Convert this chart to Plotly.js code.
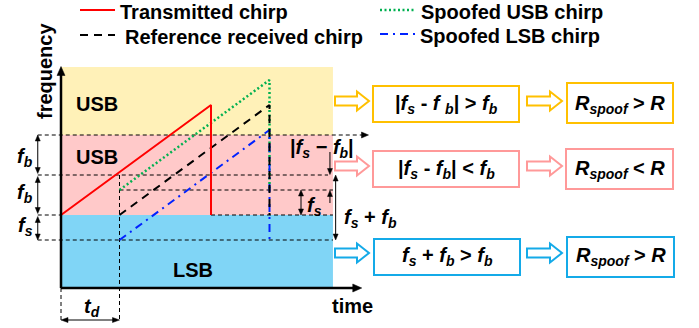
<!DOCTYPE html>
<html>
<head>
<meta charset="utf-8">
<script src="https://cdn.plot.ly/plotly-3.0.1.min.js"></script>
<style>html,body{margin:0;padding:0;background:#fff;}#chart{width:699px;height:328px;}</style>
</head>
<body>
<div id="chart"></div>
<script>
// ---------- data (time, frequency in arbitrary units) ----------
const chirpNames = ['Transmitted chirp', 'Reference received chirp', 'Spoofed USB chirp', 'Spoofed LSB chirp'];
const txTime  = [0, 10, 10];
const txFreq  = [7.3, 18.3, 7.3];
const refTime = [3.9, 13.9, 13.9];
const refFreq = [7.3, 18.3, 7.3];
const usbTime = [3.9, 13.9, 13.9];
const usbFreq = [9.8, 20.8, 9.8];
const lsbTime = [3.9, 13.9, 13.9];
const lsbFreq = [4.8, 15.8, 4.8];
// key frequency levels: f0, f0+fb, f0+2fb, f0+fs, f0-fs, top of band
const levelNames = ['f0', 'f0+fb', 'f0+2fb', 'f0+fs', 'f0-fs', 'top'];
const levelFreq  = [7.3, 11.3, 15.3, 9.8, 4.8, 22.1];
const bandNames  = ['LSB', 'USB', 'USB'];
const bandLow    = [0, 7.3, 15.3];
const bandHigh   = [7.3, 15.3, 22.1];
const timeEnd = 18.13, timeAxisEnd = 20, tDelay = 3.9, tChirp = 10;
const conditionTexts = [
  '<b>|<i>f</i><sub><i>s</i></sub> - <i>f</i> <sub><i>b</i></sub>| &gt; <i>f</i><sub><i>b</i></sub></b>',
  '<b>|<i>f</i><sub><i>s</i></sub> - <i>f</i><sub><i>b</i></sub>| &lt; <i>f</i><sub><i>b</i></sub></b>',
  '<b><i>f</i><sub><i>s</i></sub> + <i>f</i><sub><i>b</i></sub> &gt; <i>f</i><sub><i>b</i></sub></b>'
];
const resultTexts = [
  '<b><i>R<sub>spoof</sub></i> &gt; <i>R</i></b>',
  '<b><i>R<sub>spoof</sub></i> &lt; <i>R</i></b>',
  '<b><i>R<sub>spoof</sub></i> &gt; <i>R</i></b>'
];

// ---------- styles ----------
const FONT = 'Liberation Sans, Arial, sans-serif';
const W = 699, H = 328;
const XR = [-61 / 15, (699 - 61) / 15], YR = [-4, 28.8];
const bandColors = ['#80D5F6', '#FFC9C9', '#FFF1B8'];
const rowColors = ['#FFC000', '#FF9999', '#14AAE8'];
const chirpStyles = [
  {color: '#FF0000', width: 2, dash: 'solid'},
  {color: '#000000', width: 2, dash: '8px,6px'},
  {color: '#00B050', width: 2.5, dash: '2px,2.5px'},
  {color: '#0022FF', width: 2, dash: '8px,5px,2px,5px'}
];

const fL = n => levelFreq[levelNames.indexOf(n)];
const traces = [
  [txTime, txFreq], [refTime, refFreq], [usbTime, usbFreq], [lsbTime, lsbFreq]
].map((d, i) => ({
  x: d[0], y: d[1], type: 'scatter', mode: 'lines', name: chirpNames[i],
  line: chirpStyles[i], showlegend: false, hoverinfo: 'skip', xaxis: 'x', yaxis: 'y'
}));
const drawOrder = [2, 3, 1, 0].map(i => traces[i]);

const shapes = [];
const annotations = [];

// bands
bandNames.forEach((n, i) => {
  shapes.push({type: 'rect', xref: 'x', yref: 'y', x0: 0, x1: timeEnd, y0: bandLow[i], y1: bandHigh[i],
    fillcolor: bandColors[i], line: {width: 0}, layer: 'below'});
});
const bandLabelPos = [[193, 270], [96.5, 157], [96.5, 104]];
bandNames.forEach((n, i) => {
  annotations.push({xref: 'x2', yref: 'y2', x: bandLabelPos[i][0], y: bandLabelPos[i][1], text: '<b>' + n + '</b>',
    showarrow: false, font: {family: FONT, size: 20, color: '#000'}, xanchor: 'center', yanchor: 'middle'});
});

// thin dashed guide lines (time from, time to, level)
const tLeft = -1.55;
const guides = [
  [tLeft, 20.3, fL('f0+2fb')],
  [tLeft, 17.8, fL('f0+fb')],
  [tLeft, 0, fL('f0')],
  [tChirp, timeEnd, fL('f0')],
  [tLeft, timeEnd, fL('f0-fs')],
  [tDelay, timeEnd, fL('f0+fs')]
];
guides.forEach(g => shapes.push({type: 'line', xref: 'x', yref: 'y', x0: g[0], x1: g[1], y0: g[2], y1: g[2],
  line: {color: '#000', width: 1, dash: '4px,3px'}, layer: 'below'}));
shapes.push({type: 'line', xref: 'x', yref: 'y', x0: 0, x1: 0, y0: 0, y1: -3.4, line: {color: '#000', width: 1, dash: '4px,3px'}});
shapes.push({type: 'line', xref: 'x', yref: 'y', x0: tDelay, x1: tDelay, y0: fL('f0+fb'), y1: -3.4, line: {color: '#000', width: 1, dash: '4px,3px'}, layer: 'below'});

// data -> pixel helpers (same mapping as the axes)
const px = t => (t - XR[0]) / (XR[1] - XR[0]) * W;
const py = f => H - (f - YR[0]) / (YR[1] - YR[0]) * H;

// arrows drawn as shapes (line + filled triangle heads), data coords
function arr(t0, f0, t1, f1, o) {
  o = Object.assign({both: false, lw: 1, hw: 6, hl: 7, line: true}, o || {});
  const x0 = px(t0), y0 = py(f0), x1 = px(t1), y1 = py(f1);
  const L = Math.hypot(x1 - x0, y1 - y0), ux = (x1 - x0) / L, uy = (y1 - y0) / L;
  const nx = -uy, ny = ux;
  const head = (tx, ty, dx, dy) => {
    const bx = tx - dx * o.hl, by = ty - dy * o.hl;
    const d = `M${tx},${ty} L${bx + nx * o.hw / 2},${by + ny * o.hw / 2} L${bx - nx * o.hw / 2},${by - ny * o.hw / 2} Z`;
    shapes.push({type: 'path', xref: 'x2', yref: 'y2', path: d, fillcolor: '#000', line: {color: '#000', width: 0.5}});
  };
  if (o.line) {
    const sx = o.both ? x0 + ux * (o.hl - 1) : x0, sy = o.both ? y0 + uy * (o.hl - 1) : y0;
    shapes.push({type: 'line', xref: 'x2', yref: 'y2', x0: sx, y0: sy, x1: x1 - ux * (o.hl - 1), y1: y1 - uy * (o.hl - 1),
      line: {color: '#000', width: o.lw}});
  }
  head(x1, y1, ux, uy);
  if (o.both) head(x0, y0, -ux, -uy);
}
// axes
arr(0, 0, 0, fL('top') + 0.05, {lw: 2.5, hw: 8, hl: 9});
arr(0, 0, timeAxisEnd + 0.05, 0, {lw: 2.5, hw: 8, hl: 9});
// arrowhead of top dashed line
arr(20.0, fL('f0+2fb'), 20.5, fL('f0+2fb'), {line: false, hw: 6, hl: 7});
// left dimension arrows
arr(tLeft, fL('f0+fb') + 0.15, tLeft, fL('f0+2fb'), {both: true, hw: 5, hl: 6});
arr(tLeft, fL('f0') + 0.15, tLeft, fL('f0+fb') - 0.15, {both: true, hw: 5, hl: 6});
arr(tLeft, fL('f0-fs'), tLeft, fL('f0') - 0.15, {both: true, hw: 5, hl: 6});
// td arrow
arr(0, -3.2, tDelay, -3.2, {both: true, hw: 5, hl: 7});
// fs arrow
arr(16.0, fL('f0'), 16.0, fL('f0+fs'), {both: true, hw: 5, hl: 6});
// |fs - fb| outer arrows
arr(17.93, 13.6, 17.93, fL('f0+fb') + 0.05, {hw: 5, hl: 6});
arr(17.93, 8.5, 17.93, fL('f0+fs') - 0.05, {hw: 5, hl: 6});
// fs + fb arrow
arr(18.31, fL('f0-fs'), 18.31, fL('f0+fb'), {both: true, hw: 5, hl: 6});

// math labels (pixel coords)
function lab(x, y, t, size, anchor) {
  annotations.push({xref: 'x2', yref: 'y2', x: x, y: y, text: t, showarrow: false,
    font: {family: FONT, size: size || 20, color: '#000'}, xanchor: anchor || 'center', yanchor: 'middle'});
}
lab(25, 157, '<b><i>f</i><sub><i>b</i></sub></b>');
lab(25, 193, '<b><i>f</i><sub><i>b</i></sub></b>');
lab(25, 226, '<b><i>f</i><sub><i>s</i></sub></b>');
lab(92, 307, '<b><i>t</i><sub><i>d</i></sub></b>');
lab(322, 148, '<b>|<i>f</i><sub><i>s</i></sub> − <i>f</i><sub><i>b</i></sub>|</b>');
lab(314, 206, '<b><i>f</i><sub><i>s</i></sub></b>');
lab(370, 218, '<b><i>f</i><sub><i>s</i></sub> + <i>f</i><sub><i>b</i></sub></b>');
lab(352, 306, '<b>time</b>');
annotations.push({xref: 'x2', yref: 'y2', x: 45, y: 71, text: '<b>frequency</b>', textangle: -90, showarrow: false,
  font: {family: FONT, size: 20, color: '#000'}, xanchor: 'center', yanchor: 'middle'});

// legend (manual)
const legendPos = [[80, 10, 118], [80, 35, 123], [380, 10, 419], [380, 34, 418]];
chirpNames.forEach((n, i) => {
  const p = legendPos[i];
  shapes.push({type: 'line', xref: 'x2', yref: 'y2', x0: p[0], x1: p[0] + 35, y0: p[1], y1: p[1], line: chirpStyles[i]});
  lab(p[2], p[1] + 2, '<b>' + n + '</b>', 20, 'left');
});

// right-side flow: rows
const rowY = [101, 166, 253];
const box1 = [[373, 519, 86, 122], [373, 519, 151, 187], [374, 520, 239, 275]];
const box2 = [[567, 673, 83, 123], [566, 673, 149, 189], [567, 674, 237, 277]];
function hollowArrow(x0, x1, cy, color) {
  const bh = 4.5, hh = 9.5, hl = 12;
  const xh = x1 - hl;
  const d = `M${x0},${cy - bh} L${xh},${cy - bh} L${xh},${cy - hh} L${x1},${cy} L${xh},${cy + hh} L${xh},${cy + bh} L${x0},${cy + bh} Z`;
  shapes.push({type: 'path', xref: 'x2', yref: 'y2', path: d, fillcolor: '#fff', line: {color: color, width: 2}});
}
rowY.forEach((cy, i) => {
  const c = rowColors[i];
  hollowArrow(335, 369, cy, c);
  hollowArrow(527, 562, cy, c);
  const b1 = box1[i], b2 = box2[i];
  shapes.push({type: 'rect', xref: 'x2', yref: 'y2', x0: b1[0], x1: b1[1], y0: b1[2], y1: b1[3], line: {color: c, width: 2}, fillcolor: 'rgba(0,0,0,0)'});
  shapes.push({type: 'rect', xref: 'x2', yref: 'y2', x0: b2[0], x1: b2[1], y0: b2[2], y1: b2[3], line: {color: c, width: 2}, fillcolor: 'rgba(0,0,0,0)'});
  lab((b1[0] + b1[1]) / 2, cy + 3, conditionTexts[i], 20);
  lab((b2[0] + b2[1]) / 2, cy + 3, resultTexts[i], 20);
});

const layout = {
  width: W, height: H,
  margin: {l: 0, r: 0, t: 0, b: 0},
  paper_bgcolor: '#fff', plot_bgcolor: 'rgba(0,0,0,0)',
  showlegend: false,
  xaxis: {domain: [0, 1], range: XR, visible: false, fixedrange: true},
  yaxis: {domain: [0, 1], range: YR, visible: false, fixedrange: true},
  xaxis2: {overlaying: 'x', range: [0, W], visible: false, fixedrange: true},
  yaxis2: {overlaying: 'y', range: [H, 0], visible: false, fixedrange: true},
  shapes: shapes,
  annotations: annotations,
  font: {family: FONT}
};
drawOrder.push({x: [0], y: [0], xaxis: 'x2', yaxis: 'y2', mode: 'markers', marker: {opacity: 0}, hoverinfo: 'skip', showlegend: false});
Plotly.newPlot('chart', drawOrder, layout, {staticPlot: true});
</script>
</body>
</html>
